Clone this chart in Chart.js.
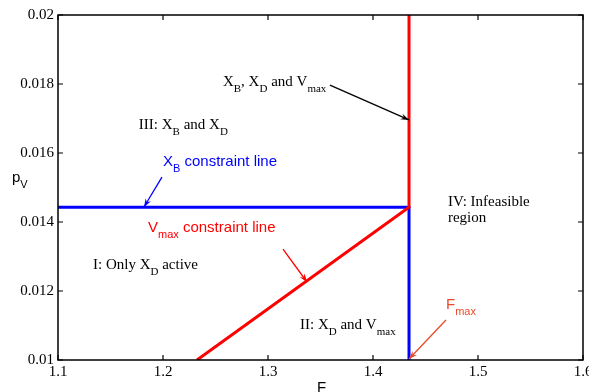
<!DOCTYPE html>
<html><head><meta charset="utf-8">
<script src="https://cdn.jsdelivr.net/npm/chart.js@4/dist/chart.umd.min.js"></script>
<style>html,body{margin:0;padding:0;background:#fff;overflow:hidden}#wrap{width:589px;height:392px}</style>
</head><body><div id="wrap"><canvas id="c" width="589" height="392"></canvas></div>
<script>
// ---- data ----
const xTicks = [1.1, 1.2, 1.3, 1.4, 1.5, 1.6];
const yTicks = [0.01, 0.012, 0.014, 0.016, 0.018, 0.02];
const xbLineF = [1.1, 1.4343, 1.4343];
const xbLineP = [0.01443, 0.01443, 0.01];
const vmaxLineF = [1.2324, 1.4343, 1.4343];
const vmaxLineP = [0.01, 0.01443, 0.02];

const SERIF = '"Liberation Serif", "Times New Roman", serif';
const SANS = '"Liberation Sans", Arial, sans-serif';

// text annotations in data coordinates
const notes = [
  {x: 1.177, y: 0.01681, font: SERIF, color: '#000', parts: [['III: X'], ['B', 1], [' and X'], ['D', 1]]},
  {x: 1.2571, y: 0.01806, font: SERIF, color: '#000', parts: [['X'], ['B', 1], [', X'], ['D', 1], [' and V'], ['max', 1]]},
  {x: 1.2, y: 0.01574, font: SANS, color: '#0000ff', parts: [['X'], ['B', 1], [' constraint line']]},
  {x: 1.1857, y: 0.01383, font: SANS, color: '#ff0000', parts: [['V'], ['max', 1], [' constraint line']]},
  {x: 1.1333, y: 0.01275, font: SERIF, color: '#000', parts: [['I: Only X'], ['D', 1], [' active']]},
  {x: 1.3305, y: 0.01101, font: SERIF, color: '#000', parts: [['II: X'], ['D', 1], [' and V'], ['max', 1]]},
  {x: 1.4714, y: 0.01458, font: SERIF, color: '#000', parts: [['IV: Infeasible']]},
  {x: 1.4714, y: 0.01412, font: SERIF, color: '#000', parts: [['region']]},
  {x: 1.4695, y: 0.01159, font: SANS, color: '#ea4a2a', parts: [['F'], ['max', 1]]}
];
// arrows [fromF, fromP, toF, toP]
const arrows = [
  {from: [1.359, 0.01797], to: [1.4343, 0.01696], color: '#000'},
  {from: [1.199, 0.0153], to: [1.1819, 0.014435], color: '#0000ff'},
  {from: [1.3143, 0.013217], to: [1.3371, 0.012261], color: '#ff0000'},
  {from: [1.4695, 0.011159], to: [1.4343, 0.01003], color: '#ea4a2a'}
];

function drawRich(ctx, x, y, parts, family, color) {
  let cx = x;
  ctx.fillStyle = color;
  ctx.textBaseline = 'middle';
  ctx.textAlign = 'left';
  for (const p of parts) {
    const sub = !!p[1];
    ctx.font = (sub ? 11 : 15) + 'px ' + family;
    ctx.fillText(p[0], cx, y + (sub ? 7 : 0));
    cx += ctx.measureText(p[0]).width;
  }
}

function drawArrow(ctx, x1, y1, x2, y2, color) {
  ctx.save();
  ctx.strokeStyle = color; ctx.fillStyle = color; ctx.lineWidth = 1.3;
  ctx.beginPath(); ctx.moveTo(x1, y1); ctx.lineTo(x2, y2); ctx.stroke();
  const a = Math.atan2(y2 - y1, x2 - x1), L = 9, w = 0.35;
  ctx.beginPath();
  ctx.moveTo(x2, y2);
  ctx.lineTo(x2 - L * Math.cos(a - w), y2 - L * Math.sin(a - w));
  ctx.lineTo(x2 - 0.6 * L * Math.cos(a), y2 - 0.6 * L * Math.sin(a));
  ctx.lineTo(x2 - L * Math.cos(a + w), y2 - L * Math.sin(a + w));
  ctx.closePath(); ctx.fill();
  ctx.restore();
}

const overlay = {
  id: 'overlay',
  afterDraw(chart) {
    const ctx = chart.ctx, xs = chart.scales.x, ys = chart.scales.y, ca = chart.chartArea;
    ctx.save();
    // frame
    ctx.strokeStyle = '#000'; ctx.lineWidth = 1.5;
    ctx.strokeRect(ca.left, ca.top, ca.right - ca.left, ca.bottom - ca.top);
    // inward ticks
    ctx.lineWidth = 1.2;
    ctx.beginPath();
    for (const v of xTicks) {
      const px = xs.getPixelForValue(v);
      ctx.moveTo(px, ca.bottom); ctx.lineTo(px, ca.bottom - 5);
      ctx.moveTo(px, ca.top); ctx.lineTo(px, ca.top + 5);
    }
    for (const v of yTicks) {
      const py = ys.getPixelForValue(v);
      ctx.moveTo(ca.left, py); ctx.lineTo(ca.left + 5, py);
      ctx.moveTo(ca.right, py); ctx.lineTo(ca.right - 5, py);
    }
    ctx.stroke();
    // annotations
    for (const n of notes) drawRich(ctx, xs.getPixelForValue(n.x), ys.getPixelForValue(n.y), n.parts, n.font, n.color);
    for (const a of arrows) drawArrow(ctx, xs.getPixelForValue(a.from[0]), ys.getPixelForValue(a.from[1]),
      xs.getPixelForValue(a.to[0]), ys.getPixelForValue(a.to[1]), a.color);
    // axis labels
    drawRich(ctx, ca.left - 46, (ca.top + ca.bottom) / 2 - 10, [['p'], ['V', 1]], SANS, '#000');
    ctx.font = '15px ' + SANS; ctx.textAlign = 'center'; ctx.textBaseline = 'top'; ctx.fillStyle = '#000';
    ctx.fillText('F', (ca.left + ca.right) / 2 + 1, ca.bottom + 20);
    ctx.restore();
  }
};

new Chart(document.getElementById('c'), {
  type: 'scatter',
  data: {
    datasets: [
      {data: vmaxLineF.map((f, i) => ({x: f, y: vmaxLineP[i]})), showLine: true, borderColor: '#ff0000', borderWidth: 3, pointRadius: 0, tension: 0, fill: false},
      {data: xbLineF.map((f, i) => ({x: f, y: xbLineP[i]})), showLine: true, borderColor: '#0000ff', borderWidth: 3, pointRadius: 0, tension: 0, fill: false}
    ]
  },
  options: {
    responsive: false, animation: false, devicePixelRatio: 1,
    layout: {padding: {top: 15, right: 6, left: 0, bottom: 0}},
    plugins: {legend: {display: false}, tooltip: {enabled: false}},
    scales: {
      x: {
        type: 'linear', min: 1.1, max: 1.6,
        grid: {display: false, drawTicks: false}, border: {display: false},
        afterBuildTicks: s => { s.ticks = xTicks.map(v => ({value: v})); },
        afterFit: s => { s.height = 32; s.paddingLeft = 0; s.paddingRight = 0; },
        ticks: {color: '#000', font: {family: SERIF, size: 15}, padding: 3, maxRotation: 0, autoSkip: false, callback: v => String(v)}
      },
      y: {
        type: 'linear', min: 0.01, max: 0.02,
        grid: {display: false, drawTicks: false}, border: {display: false},
        afterBuildTicks: s => { s.ticks = yTicks.map(v => ({value: v})); },
        afterFit: s => { s.width = 58; s.paddingTop = 0; s.paddingBottom = 0; },
        ticks: {color: '#000', font: {family: SERIF, size: 15}, padding: 4, autoSkip: false, callback: v => String(v)}
      }
    }
  },
  plugins: [overlay]
});
</script></body></html>
